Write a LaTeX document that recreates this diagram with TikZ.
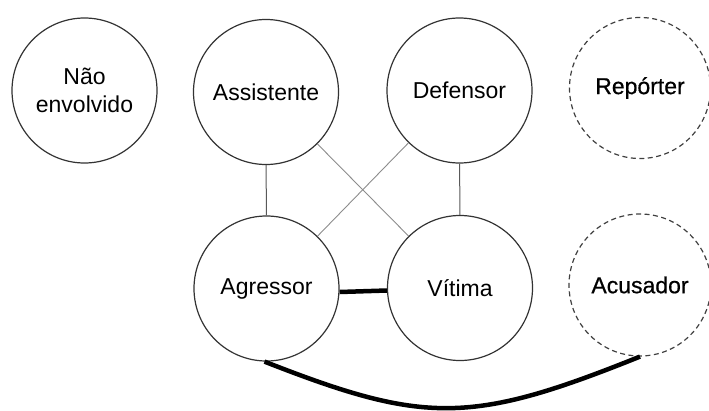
\documentclass[tikz,border=0pt]{standalone}
\usepackage{fontspec}
\setmainfont{Liberation Sans}
\newfontfamily\medfont[FakeBold=0.6]{Liberation Sans}
\begin{document}
\begin{tikzpicture}[x=1pt,y=-1pt,
  role/.style={circle,draw=black!80,line width=1.2pt,inner sep=0pt,
    minimum size=145pt,font=\fontsize{23}{28}\selectfont,align=center},
  extern/.style={role,draw=black!75,dashed,dash pattern=on 5pt off 3.5pt,line width=1.2pt,
    font=\fontsize{23}{28}\medfont},
  tie/.style={line width=1pt,draw=black!65},
  crosstie/.style={line width=0.9pt,draw=black!45},
  strongtie/.style={line width=4.5pt,draw=black}]
\useasboundingbox (0,0) rectangle (709,410);
\node[role] (nao) at (84.5,90.5) {Não\\envolvido};
\node[role] (assist) at (266,92) {Assistente};
\node[role] (def) at (459.5,90.5) {Defensor};
\node[extern,minimum size=141pt] (rep) at (640,88) {Repórter};
\node[role] (agr) at (266.5,288.5) {Agressor};
\node[role] (vit) at (460,288) {Vítima};
\node[extern,minimum size=142pt] (acu) at (640,285) {Acusador};
% relations between the four group roles
\draw[tie] (assist) -- (agr);
\draw[tie] (def) -- (vit);
\draw[crosstie] (assist) -- (vit);
\draw[crosstie] (def) -- (agr);
% strong bonds
\draw[strongtie] ([yshift=-3.5pt]agr.east) -- ([yshift=-2.5pt]vit.west);
\draw[strongtie] ([xshift=-2pt]agr.south) .. controls (425,424.5) and (471,424.5) .. (acu.south);
\end{tikzpicture}
\end{document}
